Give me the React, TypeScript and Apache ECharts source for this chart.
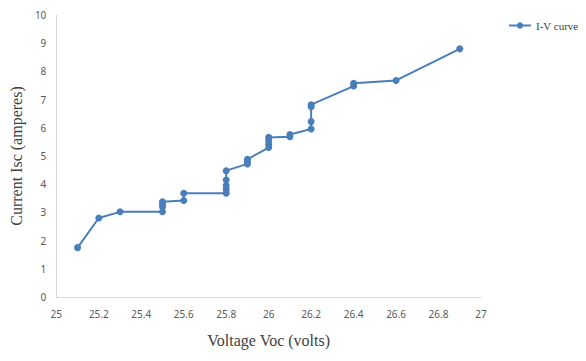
import React, { useEffect, useRef } from "react";
import * as echarts from "echarts";

const voltage = [25.1, 25.2, 25.3, 25.5, 25.5, 25.5, 25.5, 25.6, 25.6, 25.8, 25.8, 25.8, 25.8, 25.8, 25.9, 25.9, 25.9, 26.0, 26.0, 26.0, 26.0, 26.1, 26.1, 26.2, 26.2, 26.2, 26.2, 26.4, 26.4, 26.6, 26.9];
const current = [1.75, 2.8, 3.02, 3.02, 3.2, 3.3, 3.38, 3.42, 3.68, 3.68, 3.82, 3.95, 4.15, 4.48, 4.72, 4.8, 4.88, 5.3, 5.42, 5.55, 5.66, 5.68, 5.76, 5.96, 6.22, 6.75, 6.82, 7.48, 7.58, 7.68, 8.8];
const seriesName = "I-V curve";
const xTitle = "Voltage Voc (volts)";
const yTitle = "Current Isc (amperes)";

export default function App() {
  const ref = useRef<HTMLDivElement>(null);
  useEffect(() => {
    if (!ref.current) return;
    const chart = echarts.init(ref.current, null, { renderer: "svg" });
    const tickFont = { fontFamily: "Noto Sans", fontSize: 10, color: "#595959" };
    chart.setOption({
      animation: false,
      backgroundColor: "#ffffff",
      grid: { left: 56, right: 105, top: 15, bottom: 64 },
      legend: {
        data: [seriesName],
        left: 503,
        top: 15,
        itemWidth: 22,
        itemHeight: 8,
        itemGap: 4,
        textStyle: { fontFamily: "Liberation Serif", fontSize: 11, color: "#404040" },
      },
      xAxis: {
        type: "value",
        min: 25,
        max: 27,
        interval: 0.2,
        name: xTitle,
        nameLocation: "middle",
        nameGap: 35,
        nameTextStyle: { fontFamily: "Liberation Serif", fontSize: 16, color: "#404040" },
        axisLine: { show: true, lineStyle: { color: "#d9d9d9", width: 1 } },
        axisTick: { show: false },
        splitLine: { show: false },
        axisLabel: { ...tickFont, margin: 12 },
      },
      yAxis: {
        type: "value",
        min: 0,
        max: 10,
        interval: 1,
        name: yTitle,
        nameLocation: "middle",
        nameGap: 25,
        nameTextStyle: { fontFamily: "Liberation Serif", fontSize: 16, color: "#404040" },
        axisLine: { show: true, lineStyle: { color: "#d9d9d9", width: 1 } },
        axisTick: { show: false },
        splitLine: { show: false },
        axisLabel: { ...tickFont, margin: 10 },
      },
      series: [
        {
          name: seriesName,
          type: "line",
          data: voltage.map((v, i) => [v, current[i]]),
          symbol: "circle",
          symbolSize: 7,
          showSymbol: true,
          itemStyle: { color: "#4a7ebb" },
          lineStyle: { color: "#4a7ebb", width: 2 },
        },
      ],
    });
    return () => chart.dispose();
  }, []);
  return <div ref={ref} style={{ width: 586, height: 361, position: "absolute", left: 0, top: 0 }} />;
}
